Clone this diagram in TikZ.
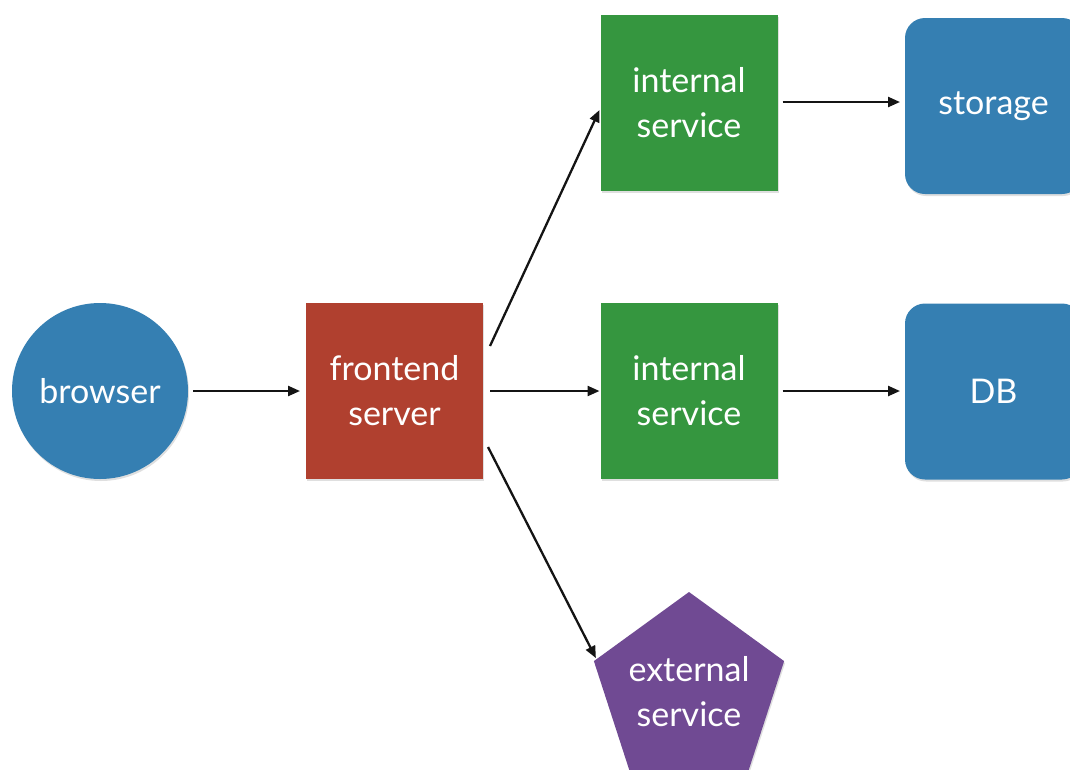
\documentclass[tikz,border=0pt]{standalone}
\usepackage{fontspec}
\setmainfont{Lato}
\usetikzlibrary{arrows.meta,shapes.geometric,shadows}
\definecolor{cblue}{HTML}{357FB2}
\definecolor{cred}{HTML}{B0402F}
\definecolor{cgreen}{HTML}{35963F}
\definecolor{cpurple}{HTML}{704A93}
\tikzset{
  base/.style={text=white, inner sep=0pt, outer sep=0pt, align=center,
    font=\fontsize{34}{45}\selectfont,
    drop shadow={shadow xshift=1pt, shadow yshift=-2pt, opacity=0.25}},
  sq/.style={base, rectangle, minimum width=177pt, minimum height=176pt},
  rsq/.style={base, rectangle, rounded corners=20pt, fill=cblue, minimum width=177pt, minimum height=176pt},
  circ/.style={base, circle, fill=cblue, minimum size=176pt},
  pent/.style={base, regular polygon, regular polygon sides=5, fill=cpurple, minimum size=200pt, inner sep=-20pt},
  arr/.style={line width=2.3pt, draw=black!92, -{Triangle[length=12pt,width=10pt]}}
}
\begin{document}
\begin{tikzpicture}[x=1pt,y=-1pt]
\useasboundingbox (0,0) rectangle (1070,769);
\clip (0,0) rectangle (1070,769);
\node[circ] (browser) at (100,391) {browser};
\node[sq, fill=cred] (front) at (394.5,391) {frontend\\server};
\node[sq, fill=cgreen] (int1) at (689,103) {internal\\service};
\node[sq, fill=cgreen] (int2) at (689,391) {internal\\service};
\node[rsq] (storage) at (993.5,106) {storage};
\node[rsq] (db) at (993.5,391.5) {DB};
\node[pent] (ext) at (689,692) {external\\service};
\draw[arr] ([xshift=5pt]browser.east) -- ([xshift=-6pt]front.west);
\draw[arr] ([xshift=7pt,yshift=45pt]front.east) -- ([xshift=-1pt,yshift=-7pt]int1.west);
\draw[arr] ([xshift=7pt]front.east) -- ([xshift=-1pt]int2.west);
\draw[arr] ([xshift=5pt,yshift=-56pt]front.east) -- ([xshift=2pt,yshift=3pt]ext.corner 2);
\draw[arr] ([xshift=5pt,yshift=1pt]int1.east) -- ([xshift=-5pt,yshift=4pt]storage.west);
\draw[arr] ([xshift=5pt]int2.east) -- ([xshift=-5pt,yshift=0.5pt]db.west);
\end{tikzpicture}
\end{document}
